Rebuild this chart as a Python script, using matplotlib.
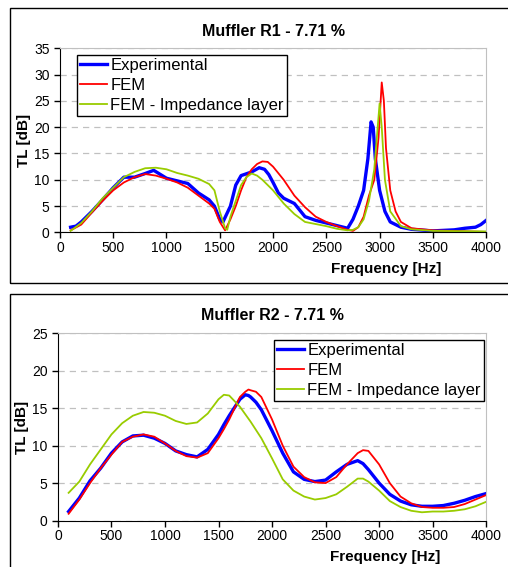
"""
Muffler R1 / R2 transmission loss comparison
"""

import matplotlib.pyplot as plt
from matplotlib.patches import Rectangle

plt.rcParams['font.family'] = ['Liberation Sans', 'DejaVu Sans']

# ---- Muffler R1 ----
r1_exp_f = [100, 150, 200, 300, 400, 500, 600, 700, 800, 880, 1000, 1100, 1200, 1300, 1400, 1450,
            1500, 1530, 1600, 1650, 1700, 1800, 1870, 1920, 1960, 2000, 2050, 2100, 2200, 2300,
            2400, 2500, 2600, 2700, 2750, 2800, 2850, 2890, 2920, 2940, 2960, 3000, 3050, 3100,
            3200, 3300, 3500, 3700, 3800, 3900, 3950, 4000]
r1_exp = [1.0, 1.2, 2.0, 4.0, 6.2, 8.5, 10.5, 10.5, 11.2, 11.8, 10.3, 9.8, 9.3, 7.5, 6.2, 5.0,
          2.5, 2.0, 5.0, 9.0, 10.8, 11.5, 12.3, 12.0, 11.0, 9.5, 7.5, 6.5, 5.5, 3.0,
          2.3, 1.8, 1.3, 0.8, 2.5, 5.0, 8.0, 14.0, 21.0, 20.0, 14.0, 8.0, 4.0, 2.0,
          1.0, 0.6, 0.3, 0.5, 0.8, 1.0, 1.5, 2.3]

r1_fem_f = [100, 200, 300, 400, 500, 600, 700, 800, 900, 1000, 1100, 1200, 1300, 1400, 1450,
            1500, 1550, 1600, 1650, 1700, 1750, 1800, 1850, 1900, 1950, 2000, 2100, 2200, 2300,
            2400, 2500, 2600, 2700, 2750, 2800, 2850, 2900, 2950, 2990, 3020, 3040, 3060, 3100,
            3150, 3200, 3300, 3500, 4000]
r1_fem = [0.4, 1.5, 3.8, 6.0, 8.0, 9.5, 10.5, 11.1, 10.8, 10.2, 9.5, 8.5, 7.0, 5.5, 4.5,
          2.0, 0.4, 2.5, 5.0, 8.0, 10.5, 12.0, 13.0, 13.5, 13.4, 12.5, 10.0, 7.0, 4.8,
          3.0, 2.0, 1.2, 0.5, 0.3, 1.0, 3.0, 7.0, 10.0, 18.0, 28.5, 25.0, 16.0, 8.0,
          4.0, 2.0, 0.8, 0.4, 0.1]

r1_imp_f = [100, 200, 300, 400, 500, 600, 700, 800, 900, 1000, 1100, 1200, 1300, 1400, 1450,
            1500, 1550, 1570, 1600, 1650, 1700, 1750, 1800, 1850, 1900, 2000, 2100, 2200, 2300,
            2400, 2500, 2600, 2700, 2750, 2800, 2850, 2900, 2950, 3000, 3020, 3050, 3100, 3200,
            3300, 3500, 4000]
r1_imp = [0.3, 1.8, 4.0, 6.5, 8.5, 10.5, 11.5, 12.2, 12.3, 12.0, 11.3, 10.8, 10.2, 9.2, 8.0,
          4.0, 0.8, 0.5, 3.0, 6.0, 9.0, 10.5, 11.2, 10.8, 10.0, 8.0, 5.5, 3.5, 2.0,
          1.6, 1.2, 0.7, 0.4, 0.5, 1.0, 2.5, 6.0, 12.0, 24.5, 20.0, 10.0, 4.0, 1.2,
          0.6, 0.3, 0.2]

# ---- Muffler R2 ----
r2_f = [100, 200, 300, 400, 500, 600, 700, 800, 900, 1000, 1100, 1200, 1300, 1400, 1500,
        1550, 1600, 1700, 1750, 1780, 1800, 1850, 1900, 2000, 2100, 2200, 2300, 2400, 2500,
        2600, 2700, 2800, 2850, 2900, 3000, 3100, 3200, 3300, 3400, 3500, 3600, 3700, 3800,
        3900, 4000]
r2_exp = [1.2, 3.0, 5.3, 7.0, 9.0, 10.5, 11.3, 11.4, 11.0, 10.3, 9.3, 8.8, 8.5, 9.5, 11.5,
          12.8, 14.0, 16.2, 16.8, 16.7, 16.5, 15.8, 14.8, 12.0, 9.0, 6.5, 5.5, 5.2, 5.4,
          6.5, 7.5, 8.0, 7.6, 6.8, 5.0, 3.5, 2.6, 2.1, 1.9, 1.9, 2.0, 2.3, 2.7,
          3.2, 3.6]
r2_fem = [0.9, 2.8, 5.0, 7.0, 8.8, 10.5, 11.2, 11.5, 11.2, 10.3, 9.3, 8.6, 8.4, 9.0, 11.0,
          12.2, 13.5, 16.5, 17.2, 17.5, 17.4, 17.2, 16.5, 13.5, 10.0, 7.2, 5.8, 5.1, 5.0,
          5.8, 7.5, 9.0, 9.4, 9.3, 7.5, 5.0, 3.2, 2.3, 1.8, 1.7, 1.7, 1.8, 2.2,
          2.8, 3.4]
r2_imp = [3.7, 5.2, 7.5, 9.5, 11.5, 13.0, 14.0, 14.5, 14.4, 14.0, 13.3, 12.9, 13.1, 14.3, 16.2,
          16.8, 16.7, 15.2, 14.2, 13.6, 13.2, 12.1, 11.0, 8.3, 5.5, 4.0, 3.2, 2.8, 3.0,
          3.5, 4.5, 5.6, 5.6, 5.2, 4.0, 2.6, 1.8, 1.3, 1.1, 1.2, 1.2, 1.3, 1.5,
          1.9, 2.5]

labels = ['Experimental', 'FEM', 'FEM - Impedance layer']

fig = plt.figure(figsize=(5.08, 5.67), dpi=100)

# panel frames
fig.patches.append(Rectangle((0.02, 0.501), 1.0, 0.485, transform=fig.transFigure,
                             fill=False, edgecolor='black', linewidth=1.0))
fig.patches.append(Rectangle((0.02, -0.05), 1.0, 0.531, transform=fig.transFigure,
                             fill=False, edgecolor='black', linewidth=1.0))


def style_axes(ax, ymax):
    ax.set_xlim(0, 4000)
    ax.set_ylim(0, ymax)
    ax.set_xticks(range(0, 4001, 500))
    ax.set_yticks(range(0, ymax + 1, 5))
    ax.grid(axis='y', color='#c0c0c0', linestyle=(0, (5, 4)), linewidth=0.9)
    ax.set_axisbelow(True)
    for s in ['top', 'right']:
        ax.spines[s].set_color('#c0c0c0')
    ax.tick_params(labelsize=10, direction='out', length=4, width=1)
    ax.tick_params(axis='x', pad=2)
    ax.set_ylabel('TL [dB]', fontsize=11, fontweight='bold', labelpad=2)
    ax.set_xlabel('Frequency [Hz]', fontsize=11, fontweight='bold', labelpad=0)
    ax.xaxis.set_label_coords(0.765, -0.16)


# top chart
ax1 = fig.add_axes([0.118, 0.590, 0.839, 0.325])
ax1.plot(r1_exp_f, r1_exp, color='#0000ff', linewidth=2.4, label=labels[0])
ax1.plot(r1_fem_f, r1_fem, color='#ff0000', linewidth=1.3, label=labels[1])
ax1.plot(r1_imp_f, r1_imp, color='#99cc00', linewidth=1.3, label=labels[2])
style_axes(ax1, 35)
ax1.set_title('Muffler R1 - 7.71 %', fontsize=11.5, fontweight='bold', pad=9)
ax1.legend(loc='upper left', bbox_to_anchor=(0.04, 0.964), fontsize=12, fancybox=False,
           edgecolor='black', framealpha=1, borderaxespad=0, handlelength=1.6,
           handletextpad=0.2, labelspacing=0.3, borderpad=0.2)

# bottom chart
ax2 = fig.add_axes([0.114, 0.082, 0.843, 0.330])
ax2.plot(r2_f, r2_exp, color='#0000ff', linewidth=2.4, label=labels[0])
ax2.plot(r2_f, r2_fem, color='#ff0000', linewidth=1.3, label=labels[1])
ax2.plot(r2_f, r2_imp, color='#99cc00', linewidth=1.3, label=labels[2])
style_axes(ax2, 25)
ax2.set_title('Muffler R2 - 7.71 %', fontsize=11.5, fontweight='bold', pad=10)
ax2.legend(loc='upper right', bbox_to_anchor=(0.995, 0.966), fontsize=12, fancybox=False,
           edgecolor='black', framealpha=1, borderaxespad=0, handlelength=1.6,
           handletextpad=0.2, labelspacing=0.3, borderpad=0.2)

plt.savefig('out.png', dpi=100)
plt.close()
